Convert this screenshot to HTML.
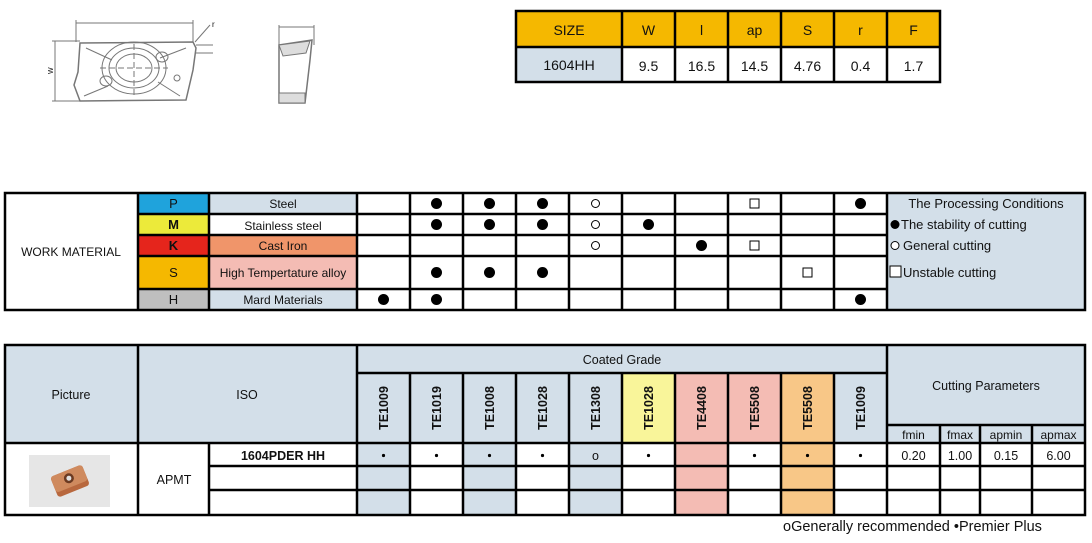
<!DOCTYPE html>
<html><head><meta charset="utf-8"><style>
html,body{margin:0;padding:0;background:#fff;width:1092px;height:543px;overflow:hidden}
svg{display:block}
text{font-family:"Liberation Sans",Arial,sans-serif;fill:#111}
</style></head><body>
<svg width="1092" height="543" viewBox="0 0 1092 543" xmlns="http://www.w3.org/2000/svg">
<!-- drawing -->
<g fill="none" stroke="#777" stroke-width="1">
<line x1="76" y1="23" x2="193" y2="23"/><line x1="76" y1="20" x2="76" y2="42"/><line x1="193" y1="20" x2="193" y2="42"/>
<line x1="55" y1="41" x2="55" y2="101"/><line x1="52" y1="41" x2="80" y2="41"/><line x1="52" y1="101" x2="80" y2="101"/>
<line x1="196" y1="45" x2="213" y2="45"/><line x1="196" y1="53" x2="213" y2="53"/><line x1="195" y1="42" x2="210" y2="25"/>
<path d="M80,43 L193,42 L196,48 L193,70 L186,100 L80,101 L74,85 L78,72 Z" stroke-width="1.5"/>
<ellipse cx="134" cy="68" rx="25" ry="20"/><ellipse cx="134" cy="68" rx="18" ry="14"/><ellipse cx="134" cy="68" rx="32" ry="26"/>
<line x1="100" y1="68" x2="168" y2="68" stroke-dasharray="6,3"/><line x1="134" y1="44" x2="134" y2="96" stroke-dasharray="6,3"/>
<ellipse cx="162" cy="57" rx="6" ry="5"/><ellipse cx="106" cy="81" rx="6" ry="5"/><circle cx="177" cy="78" r="3"/>
<line x1="86" y1="48" x2="112" y2="60"/><line x1="186" y1="48" x2="160" y2="58"/><line x1="84" y1="96" x2="108" y2="86"/><line x1="180" y1="96" x2="158" y2="82"/>
<line x1="279" y1="27" x2="314" y2="27"/><line x1="279" y1="25" x2="279" y2="45"/><line x1="314" y1="25" x2="314" y2="45"/>
<path d="M279,45 L312,40 L310,60 L305,103 L279,103 Z" stroke-width="1.5"/>
<path d="M279,45 L310,41 L306,53 L283,56 Z" fill="#ddd"/><path d="M279,93 L305,93 L305,103 L279,103 Z" fill="#ddd"/>
</g>
<text x="46" y="73" font-size="7" transform="rotate(-90 50 70)">W</text>
<text x="212" y="27" font-size="8">r</text>
<!-- top table -->
<rect x="516" y="11" width="424" height="36" fill="#f5b800"/>
<rect x="516" y="47" width="106" height="35" fill="#d3dfe9"/>
<g stroke="#000" stroke-width="2.5" fill="none">
<rect x="516" y="11" width="424" height="71"/>
<line x1="516" y1="47" x2="940" y2="47"/>
<line x1="622" y1="11" x2="622" y2="82"/><line x1="675" y1="11" x2="675" y2="82"/><line x1="728" y1="11" x2="728" y2="82"/><line x1="781" y1="11" x2="781" y2="82"/><line x1="834" y1="11" x2="834" y2="82"/><line x1="887" y1="11" x2="887" y2="82"/>
</g>
<g font-size="14" text-anchor="middle">
<text x="569" y="35">SIZE</text><text x="648.5" y="35">W</text><text x="701.5" y="35">l</text><text x="754.5" y="35">ap</text><text x="807.5" y="35">S</text><text x="860.5" y="35">r</text><text x="913.5" y="35">F</text>
<text x="569" y="70">1604HH</text><text x="648.5" y="71">9.5</text><text x="701.5" y="71">16.5</text><text x="754.5" y="71">14.5</text><text x="807.5" y="71">4.76</text><text x="860.5" y="71">0.4</text><text x="913.5" y="71">1.7</text>
</g>
<!-- middle table -->
<rect x="138" y="193" width="71" height="21" fill="#1fa3dc"/><rect x="209" y="193" width="148" height="21" fill="#d3dfe9"/>
<rect x="138" y="214" width="71" height="21" fill="#ecea3a"/>
<rect x="138" y="235" width="71" height="21" fill="#e5251c"/><rect x="209" y="235" width="148" height="21" fill="#f0956a"/>
<rect x="138" y="256" width="71" height="33" fill="#f5b800"/><rect x="209" y="256" width="148" height="33" fill="#f4bcb4"/>
<rect x="138" y="289" width="71" height="21" fill="#bfbfbf"/><rect x="209" y="289" width="148" height="21" fill="#d3dfe9"/>
<rect x="887" y="193" width="198" height="117" fill="#d3dfe9"/>
<g stroke="#000" stroke-width="2.5" fill="none">
<rect x="5" y="193" width="1080" height="117"/>
<line x1="138" y1="214" x2="887" y2="214"/><line x1="138" y1="235" x2="887" y2="235"/><line x1="138" y1="256" x2="887" y2="256"/><line x1="138" y1="289" x2="887" y2="289"/>
<line x1="138" y1="193" x2="138" y2="310"/><line x1="209" y1="193" x2="209" y2="310"/><line x1="357" y1="193" x2="357" y2="310"/><line x1="410" y1="193" x2="410" y2="310"/><line x1="463" y1="193" x2="463" y2="310"/><line x1="516" y1="193" x2="516" y2="310"/><line x1="569" y1="193" x2="569" y2="310"/><line x1="622" y1="193" x2="622" y2="310"/><line x1="675" y1="193" x2="675" y2="310"/><line x1="728" y1="193" x2="728" y2="310"/><line x1="781" y1="193" x2="781" y2="310"/><line x1="834" y1="193" x2="834" y2="310"/><line x1="887" y1="193" x2="887" y2="310"/>
</g>
<g font-size="12" text-anchor="middle">
<text x="71" y="256">WORK MATERIAL</text>
<text x="173.5" y="208" font-size="13">P</text><text x="173.5" y="229" font-size="13" font-weight="bold">M</text><text x="173.5" y="250" font-size="13" font-weight="bold">K</text><text x="173.5" y="277" font-size="13">S</text><text x="173.5" y="304" font-size="13">H</text>
<text x="283" y="208">Steel</text><text x="283" y="230">Stainless steel</text><text x="283" y="250">Cast Iron</text><text x="283" y="277">High Tempertature alloy</text><text x="283" y="304">Mard Materials</text>
</g>
<g fill="#000">
<circle cx="436.5" cy="203.5" r="5.5"/><circle cx="489.5" cy="203.5" r="5.5"/><circle cx="542.5" cy="203.5" r="5.5"/><circle cx="860.5" cy="203.5" r="5.5"/>
<circle cx="436.5" cy="224.5" r="5.5"/><circle cx="489.5" cy="224.5" r="5.5"/><circle cx="542.5" cy="224.5" r="5.5"/><circle cx="648.5" cy="224.5" r="5.5"/>
<circle cx="701.5" cy="245.5" r="5.5"/>
<circle cx="436.5" cy="272.5" r="5.5"/><circle cx="489.5" cy="272.5" r="5.5"/><circle cx="542.5" cy="272.5" r="5.5"/>
<circle cx="383.5" cy="299.5" r="5.5"/><circle cx="436.5" cy="299.5" r="5.5"/><circle cx="860.5" cy="299.5" r="5.5"/>
<circle cx="895" cy="224.5" r="4.5"/>
</g>
<g fill="#fff" stroke="#000" stroke-width="1">
<circle cx="595.5" cy="203.5" r="4"/><circle cx="595.5" cy="224.5" r="4"/><circle cx="595.5" cy="245.5" r="4"/>
<rect x="750" y="199" width="9" height="9"/><rect x="750" y="241" width="9" height="9"/><rect x="803" y="268" width="9" height="9"/>
<circle cx="895" cy="245.5" r="4"/><rect x="890" y="266" width="11" height="11"/>
</g>
<g font-size="13">
<text x="986" y="208" text-anchor="middle">The Processing Conditions</text>
<text x="901" y="229">The stability of cutting</text>
<text x="903" y="250">General cutting</text>
<text x="903" y="277">Unstable cutting</text>
</g>
<!-- bottom table -->
<rect x="5" y="345" width="1080" height="98" fill="#d3dfe9"/>
<rect x="622" y="373" width="53" height="70" fill="#f9f59a"/>
<rect x="675" y="373" width="106" height="70" fill="#f4bcb4"/>
<rect x="781" y="373" width="53" height="70" fill="#f8c787"/>
<rect x="357" y="443" width="53" height="72" fill="#d3dfe9"/><rect x="463" y="443" width="53" height="72" fill="#d3dfe9"/><rect x="569" y="443" width="53" height="72" fill="#d3dfe9"/>
<rect x="675" y="443" width="53" height="72" fill="#f4bcb4"/><rect x="781" y="443" width="53" height="72" fill="#f8c787"/>
<rect x="29" y="455" width="81" height="52" fill="#e6e6e6"/>
<g transform="rotate(-22 70 481)"><rect x="53" y="470" width="34" height="22" rx="3" fill="#b8683e"/><rect x="53" y="470" width="34" height="17" rx="3" fill="#cf8a5e"/><circle cx="70" cy="478" r="5" fill="#6b3a22"/><circle cx="70" cy="478" r="2.5" fill="#e0e0e0"/></g>
<g stroke="#000" stroke-width="2.5" fill="none">
<rect x="5" y="345" width="1080" height="170"/>
<line x1="138" y1="345" x2="138" y2="515"/><line x1="209" y1="443" x2="209" y2="515"/><line x1="357" y1="345" x2="357" y2="515"/><line x1="887" y1="345" x2="887" y2="515"/>
<line x1="410" y1="373" x2="410" y2="515"/><line x1="463" y1="373" x2="463" y2="515"/><line x1="516" y1="373" x2="516" y2="515"/><line x1="569" y1="373" x2="569" y2="515"/><line x1="622" y1="373" x2="622" y2="515"/><line x1="675" y1="373" x2="675" y2="515"/><line x1="728" y1="373" x2="728" y2="515"/><line x1="781" y1="373" x2="781" y2="515"/><line x1="834" y1="373" x2="834" y2="515"/>
<line x1="940" y1="425" x2="940" y2="515"/><line x1="980" y1="425" x2="980" y2="515"/><line x1="1032" y1="425" x2="1032" y2="515"/>
<line x1="357" y1="373" x2="887" y2="373"/><line x1="887" y1="425" x2="1085" y2="425"/>
<line x1="5" y1="443" x2="1085" y2="443"/><line x1="209" y1="466" x2="1085" y2="466"/><line x1="209" y1="490" x2="1085" y2="490"/>
</g>
<g font-size="12.5" text-anchor="middle">
<text x="71" y="399">Picture</text><text x="247" y="399">ISO</text>
<text x="622" y="364">Coated Grade</text><text x="986" y="390">Cutting Parameters</text>
<text x="913.5" y="439" font-size="12">fmin</text><text x="960" y="439" font-size="12">fmax</text><text x="1006" y="439" font-size="12">apmin</text><text x="1058.5" y="439" font-size="12">apmax</text>
<text x="283" y="460" font-weight="bold">1604PDER HH</text><text x="174" y="484">APMT</text>
<text x="913.5" y="460">0.20</text><text x="960" y="460">1.00</text><text x="1006" y="460">0.15</text><text x="1058.5" y="460">6.00</text>
<text x="595.5" y="460">o</text>
</g>
<g font-size="12.5" font-weight="bold" text-anchor="middle">
<text transform="translate(388,408) rotate(-90)">TE1009</text><text transform="translate(441,408) rotate(-90)">TE1019</text><text transform="translate(494,408) rotate(-90)">TE1008</text><text transform="translate(547,408) rotate(-90)">TE1028</text><text transform="translate(600,408) rotate(-90)">TE1308</text><text transform="translate(653,408) rotate(-90)">TE1028</text><text transform="translate(706,408) rotate(-90)">TE4408</text><text transform="translate(759,408) rotate(-90)">TE5508</text><text transform="translate(812,408) rotate(-90)">TE5508</text><text transform="translate(865,408) rotate(-90)">TE1009</text>
</g>
<g fill="#000">
<circle cx="383.5" cy="455.5" r="1.6"/><circle cx="436.5" cy="455.5" r="1.6"/><circle cx="489.5" cy="455.5" r="1.6"/><circle cx="542.5" cy="455.5" r="1.6"/><circle cx="648.5" cy="455.5" r="1.6"/><circle cx="754.5" cy="455.5" r="1.6"/><circle cx="807.5" cy="455.5" r="1.6"/><circle cx="860.5" cy="455.5" r="1.6"/>
</g>
<text x="783" y="531" font-size="14.5">oGenerally recommended  •Premier Plus</text>
</svg>
</body></html>
